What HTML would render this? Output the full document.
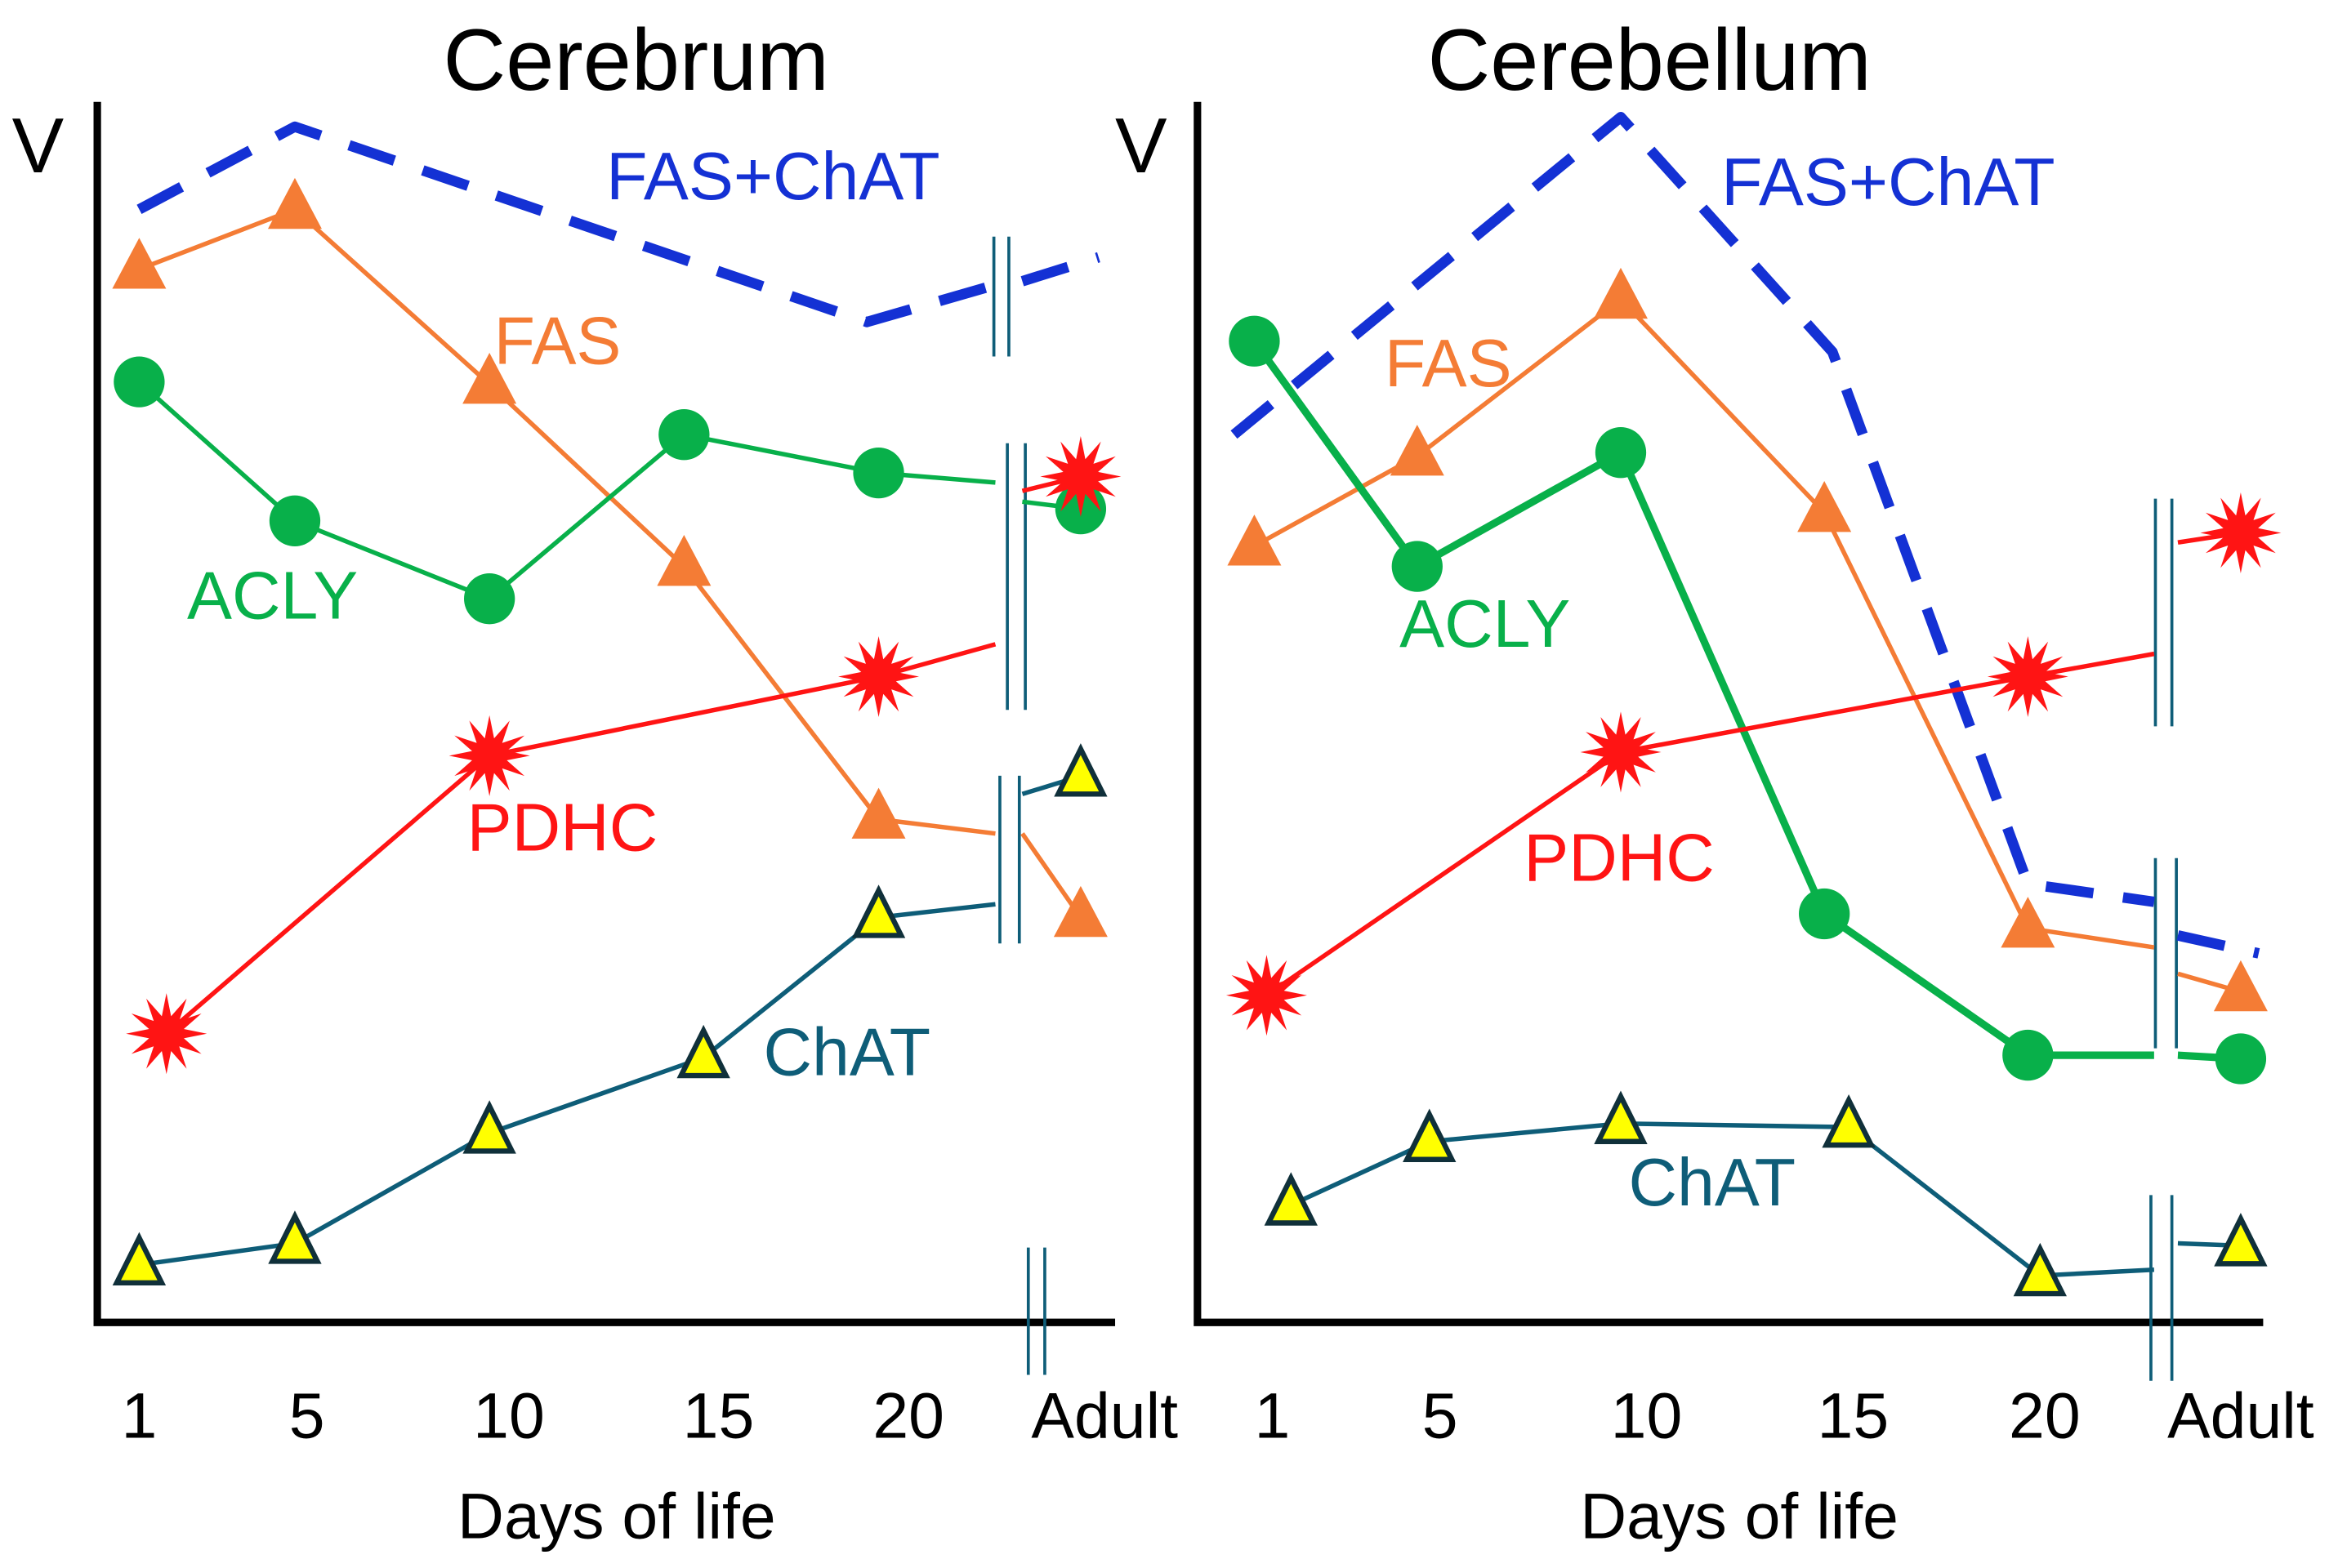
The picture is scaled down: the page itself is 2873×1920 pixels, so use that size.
<!DOCTYPE html>
<html><head><meta charset="utf-8"><style>
html,body{margin:0;padding:0;background:#fff;}
svg{display:block;font-family:"Liberation Sans",sans-serif;}
</style></head><body>
<svg id="chart" width="2873" height="1920" viewBox="0 0 1568 1047" preserveAspectRatio="none" xmlns="http://www.w3.org/2000/svg">
<rect width="1568" height="1047" fill="#fff"/>
<g id="plot"></g>
</svg>
<script>
// ---- data (values in arbitrary units; days on x) ----
const categories = ["1", "5", "10", "15", "20", "Adult"];
const tickDays = [1, 5, 10, 15, 20];
// Cerebrum
const cbrDashDays = [1, 5, 19.7, 23];
const cbrDashVals = [92.9, 99.8, 83.5, 86.6];
const cbrDashAdult = [86.9, 88.9];
const cbrFasDays = [1, 5, 10, 15, 20, 23];
const cbrFasVals = [87.9, 92.9, 78.3, 63.1, 42.0, 40.8];
const cbrFasAdult = [40.8, 33.8];
const cbrAclyDays = [1, 5, 10, 15, 20, 23];
const cbrAclyVals = [78.5, 66.9, 60.4, 74.1, 70.9, 70.1];
const cbrAclyAdult = [68.5, 67.9];
const cbrPdhcDays = [1.7, 10, 20, 23];
const cbrPdhcVals = [24.1, 47.3, 53.9, 56.6];
const cbrPdhcAdult = [69.4, 70.6];
const cbrChatDays = [1, 5, 10, 15.5, 20, 23];
const cbrChatVals = [4.8, 6.6, 15.8, 22.1, 33.8, 34.9];
const cbrChatAdult = [44.1, 45.6];
// Cerebellum
const cblDashDays = [0.5, 10, 15.2, 20, 23.1];
const cblDashVals = [74.1, 100.6, 81.0, 36.6, 35.1];
const cblDashAdult = [32.3, 30.8];
const cblFasDays = [1, 5, 10, 15, 20, 23.1];
const cblFasVals = [64.8, 72.3, 85.4, 67.6, 32.9, 31.3];
const cblFasAdult = [29.1, 27.6];
const cblAclyDays = [1, 5, 10, 15, 20, 23.1];
const cblAclyVals = [81.9, 63.1, 72.6, 34.1, 22.3, 22.3];
const cblAclyAdult = [22.3, 22.0];
const cblPdhcDays = [1.3, 10, 20, 23.1];
const cblPdhcVals = [27.3, 47.6, 53.9, 55.8];
const cblPdhcAdult = [65.1, 65.9];
const cblChatDays = [1.9, 5.3, 10, 15.6, 20.3, 23.1];
const cblChatVals = [9.8, 15.1, 16.6, 16.3, 3.9, 4.4];
const cblChatAdult = [6.6, 6.4];

const NS = "http://www.w3.org/2000/svg";
const root = document.getElementById("plot");
function mk(tag, attrs, parent) {
  const e = document.createElementNS(NS, tag);
  for (const k in attrs) e.setAttribute(k, attrs[k]);
  (parent || root).appendChild(e);
  return e;
}
const C = {dash:"#1431d4", fas:"#f47c35", acly:"#08b04a", pdhc:"#ff1414", chat:"#0e5d78"};
const yScale = v => 883 - v * 8;

function starPts(cx, cy, ro, ri, n) {
  const p = [];
  for (let i = 0; i < 2 * n; i++) {
    const a = Math.PI * i / n - Math.PI / 2;
    const r = i % 2 ? ri : ro;
    p.push((cx + r * Math.cos(a)).toFixed(1) + "," + (cy + r * Math.sin(a)).toFixed(1));
  }
  return p.join(" ");
}
function marker(type, x, y, g, name) {
  let m;
  if (type === "tri") m = mk("polygon", {points:`${x},${y-21} ${x-18},${y+13} ${x+18},${y+13}`, fill:C.fas}, g);
  else if (type === "chat") m = mk("polygon", {points:`${x},${y-18} ${x-15},${y+12} ${x+15},${y+12}`, fill:"#ffff00", stroke:"#10303a", "stroke-width":3.5}, g);
  else if (type === "circ") m = mk("ellipse", {cx:x, cy:y, rx:17, ry:17, fill:C.acly}, g);
  else if (type === "star") m = mk("polygon", {points:starPts(x, y, 27, 12, 12), fill:C.pdhc}, g);
  if (m) {
    
    
  }
}

function panel(cfg) {
  const g = mk("g", {});
  
  
  const xs = d => cfg.x0 + (d - 1) * cfg.dx;
  const ax = mk("path", {d:`M${cfg.axX},68 V883 H${cfg.axEnd}`, fill:"none", stroke:"#000", "stroke-width":5}, g);
  
  
  const t = mk("text", {x:cfg.titleX, y:60, "font-size":58, "text-anchor":"middle", fill:"#000"}, g);
  t.textContent = cfg.title;
  
  
  const v = mk("text", {x:cfg.vX, y:115, "font-size":52, fill:"#000"}, g);
  v.textContent = "V";
  
  
  categories.forEach((c, i) => {
    const tx = mk("text", {x:cfg.tickX[i], y:960, "font-size":43, "text-anchor":"middle", fill:"#000"}, g);
    tx.textContent = c;
    
    
  });
  const xt = mk("text", {x:cfg.xTitleX, y:1027, "font-size":43, "text-anchor":"middle", fill:"#000"}, g);
  xt.textContent = "Days of life";
  
  
  cfg.breaks.forEach(b => {
    [b[0], b[0] + b[3]].forEach(bx => {
      const l = mk("line", {x1:bx, y1:b[1], x2:bx, y2:b[2], stroke:C.chat, "stroke-width":2}, g);
      
      
    });
  });
  cfg.series.forEach(s => {
    const sg = mk("g", {}, g);
    
    
    const pts = s.days.map((d, i) => [xs(d), yScale(s.vals[i])]);
    const attrs = {points:pts.map(p => p.join(",")).join(" "), fill:"none", stroke:C[s.key], "stroke-width":s.w, "stroke-linejoin":"round"};
    if (s.dash) attrs["stroke-dasharray"] = "32 20";
    const pl = mk("polyline", attrs, sg);
    
    
    const aa = {x1:cfg.stubX, y1:yScale(s.adult[0]), x2:cfg.adultX + (s.dash ? 12 : 0), y2:yScale(s.adult[1]), stroke:C[s.key], "stroke-width":s.w};
    if (s.dash) aa["stroke-dasharray"] = "32 20";
    const al = mk("line", aa, sg);
    
    
    if (s.mk) {
      pts.forEach((p, i) => { if (i < pts.length - 1) marker(s.mk, p[0], p[1], sg, s.name + '-point'); });
      marker(s.mk, cfg.adultX, yScale(s.adult[1]), sg, s.name + '-adult-point');
    }
  });
  cfg.labels.forEach(L => {
    const lt = mk("text", {x:L[1], y:L[2], "font-size":45, fill:C[L[0]]}, g);
    lt.textContent = L[3];
    
    
  });
}

panel({
  name:"cerebrum-panel", title:"Cerebrum", titleX:425, vX:8, axX:65, axEnd:745,
  x0:93, dx:26, adultX:722, stubX:683, xTitleX:412,
  tickX:[93, 205, 340, 480, 607, 738],
  breaks:[[664,158,238,10],[673,296,474,12],[668,518,630,13],[687,833,918,11]],
  series:[
    {name:"fas-chat", key:"dash", days:cbrDashDays, vals:cbrDashVals, adult:cbrDashAdult, w:7, dash:true},
    {name:"fas", key:"fas", days:cbrFasDays, vals:cbrFasVals, adult:cbrFasAdult, w:3, mk:"tri"},
    {name:"acly", key:"acly", days:cbrAclyDays, vals:cbrAclyVals, adult:cbrAclyAdult, w:3, mk:"circ"},
    {name:"pdhc", key:"pdhc", days:cbrPdhcDays, vals:cbrPdhcVals, adult:cbrPdhcAdult, w:3, mk:"star"},
    {name:"chat", key:"chat", days:cbrChatDays, vals:cbrChatVals, adult:cbrChatAdult, w:3, mk:"chat"}
  ],
  labels:[["dash",405,133,"FAS+ChAT"],["fas",330,243,"FAS"],["acly",125,413,"ACLY"],["pdhc",312,568,"PDHC"],["chat",510,718,"ChAT"]]
});
panel({
  name:"cerebellum-panel", title:"Cerebellum", titleX:1102, vX:745, axX:800, axEnd:1512,
  x0:838, dx:27.2, adultX:1497, stubX:1455, xTitleX:1162,
  tickX:[850, 962, 1100, 1238, 1366, 1497],
  breaks:[[1440,333,485,11],[1440,573,700,14],[1437,798,922,14]],
  series:[
    {name:"fas-chat", key:"dash", days:cblDashDays, vals:cblDashVals, adult:cblDashAdult, w:7, dash:true},
    {name:"fas", key:"fas", days:cblFasDays, vals:cblFasVals, adult:cblFasAdult, w:3, mk:"tri"},
    {name:"acly", key:"acly", days:cblAclyDays, vals:cblAclyVals, adult:cblAclyAdult, w:5, mk:"circ"},
    {name:"pdhc", key:"pdhc", days:cblPdhcDays, vals:cblPdhcVals, adult:cblPdhcAdult, w:3, mk:"star"},
    {name:"chat", key:"chat", days:cblChatDays, vals:cblChatVals, adult:cblChatAdult, w:3, mk:"chat"}
  ],
  labels:[["dash",1150,137,"FAS+ChAT"],["fas",925,258,"FAS"],["acly",935,432,"ACLY"],["pdhc",1018,588,"PDHC"],["chat",1088,805,"ChAT"]]
});
</script>
</body></html>
